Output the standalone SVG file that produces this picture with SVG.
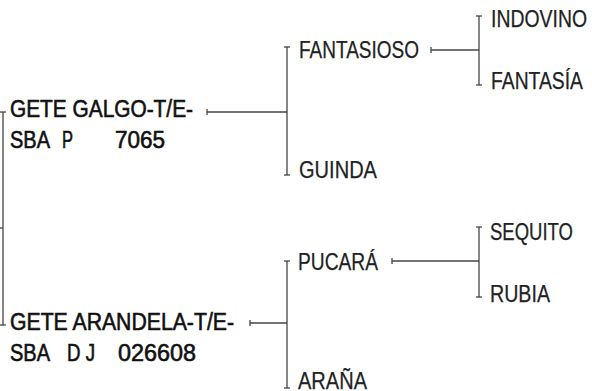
<svg xmlns="http://www.w3.org/2000/svg" width="592" height="391" viewBox="0 0 592 391">
<defs>
<marker id="bar" viewBox="0 0 2 6" refX="1" refY="3" markerWidth="2" markerHeight="6" markerUnits="userSpaceOnUse" orient="auto">
<path d="M1,0 V6" stroke="#444" stroke-width="1.3" fill="none"/>
</marker>
<style>
text{font-family:"Liberation Sans",Arial,sans-serif;font-size:23px;fill:#222;stroke:#222;stroke-width:0.25;}
.l{fill:#111;stroke:#111;stroke-width:0.6;}
.c path{stroke:#444;stroke-width:1.3;fill:none;}
.v{marker-start:url(#bar);marker-end:url(#bar);}
.h{marker-start:url(#bar);}
</style>
</defs>
<g class="c" id="connectors">
<path class="v" d="M3,112 V325"/>
<path d="M0,228 H3"/>
<path class="h" d="M207,112 H287"/>
<path class="v" d="M287,47 V175"/>
<path class="h" d="M250,323 H287"/>
<path class="v" d="M287,261 V388"/>
<path class="h" d="M431,50 H479"/>
<path class="v" d="M479,16 V85"/>
<path class="h" d="M392,261 H479"/>
<path class="v" d="M479,227 V297"/>
</g>
<g id="n-galgo">
<text class="l" x="10" y="117" textLength="183" lengthAdjust="spacingAndGlyphs">GETE GALGO-T/E-</text>
<text class="l" x="10" y="148" textLength="40" lengthAdjust="spacingAndGlyphs">SBA</text>
<text class="l" x="62" y="148" textLength="11" lengthAdjust="spacingAndGlyphs">P</text>
<text class="l" x="115" y="148" textLength="50" lengthAdjust="spacingAndGlyphs">7065</text>
</g>
<g id="n-arandela">
<text class="l" x="10" y="330" textLength="224" lengthAdjust="spacingAndGlyphs">GETE ARANDELA-T/E-</text>
<text class="l" x="10" y="361" textLength="40" lengthAdjust="spacingAndGlyphs">SBA</text>
<text class="l" x="67" y="361" textLength="28" lengthAdjust="spacingAndGlyphs">D J</text>
<text class="l" x="118" y="361" textLength="78" lengthAdjust="spacingAndGlyphs">026608</text>
</g>
<g id="n-fantasioso"><text x="299" y="58" textLength="120" lengthAdjust="spacingAndGlyphs">FANTASIOSO</text></g>
<g id="n-guinda"><text x="299" y="178" textLength="78" lengthAdjust="spacingAndGlyphs">GUINDA</text></g>
<g id="n-indovino"><text x="491" y="27" textLength="96" lengthAdjust="spacingAndGlyphs">INDOVINO</text></g>
<g id="n-fantasia"><text x="491" y="89" textLength="92" lengthAdjust="spacingAndGlyphs">FANTASÍA</text></g>
<g id="n-pucara"><text x="298" y="270" textLength="80" lengthAdjust="spacingAndGlyphs">PUCARÁ</text></g>
<g id="n-arana"><text x="298" y="389" textLength="69" lengthAdjust="spacingAndGlyphs">ARAÑA</text></g>
<g id="n-sequito"><text x="490" y="240" textLength="83" lengthAdjust="spacingAndGlyphs">SEQUITO</text></g>
<g id="n-rubia"><text x="490" y="302" textLength="60" lengthAdjust="spacingAndGlyphs">RUBIA</text></g>
</svg>
